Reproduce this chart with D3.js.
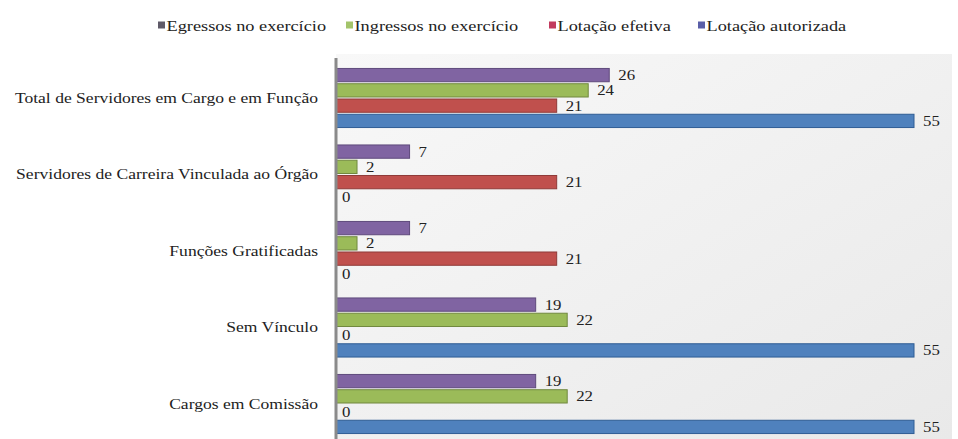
<!DOCTYPE html>
<html><head><meta charset="utf-8">
<script src="https://cdn.jsdelivr.net/npm/d3@7"></script>
<style>body{margin:0;background:#fff}svg{display:block}
svg text{font-family: "Liberation Serif", "DejaVu Serif", serif;}</style>
</head><body>
<script>
const categories = ["Total de Servidores em Cargo e em Função","Servidores de Carreira Vinculada ao Órgão","Funções Gratificadas","Sem Vínculo","Cargos em Comissão"];
const seriesNames = ["Egressos no exercício","Ingressos no exercício","Lotação efetiva","Lotação autorizada"];
const egressos   = [26, 7, 7, 19, 19];
const ingressos  = [24, 2, 2, 22, 22];
const efetiva    = [21, 21, 21, 0, 0];
const autorizada = [55, 0, 0, 55, 55];
const seriesValues = [egressos, ingressos, efetiva, autorizada];

const W = 958, H = 439;
const barFill = ["#8064a2", "#9bbb59", "#c0504d", "#4f81bd"];
const barStroke = ["#5f4a7c", "#71893f", "#8f3b39", "#2f5d94"];
const swatch = ["#5f5a68", "#a3c46a", "#c23b5e", "#5a5fa8"];

function stretch(sel, k) {
  sel.each(function() {
    const w = this.getComputedTextLength();
    d3.select(this).attr("textLength", w * k).attr("lengthAdjust", "spacingAndGlyphs");
  });
}

const svg = d3.select("body").append("svg").attr("width", W).attr("height", H);

const defs = svg.append("defs");
const g1 = defs.append("linearGradient").attr("id","bg").attr("x1","0").attr("y1","0").attr("x2","1").attr("y2","1");
g1.append("stop").attr("offset","0").attr("stop-color","#f8f8f8");
g1.append("stop").attr("offset","1").attr("stop-color","#e9e9e9");

const x0 = 336;
const x = d3.scaleLinear().domain([0, 55]).range([x0, 914]);
const y = d3.scaleBand().domain(categories).range([59.75, 442.25]).padding(0);
const yi = d3.scaleBand().domain(d3.range(4)).range([0, 60]).paddingInner(0.13).paddingOuter(0.03);

svg.append("rect").attr("x", x0).attr("y", 54).attr("width", W - x0 - 6).attr("height", H - 54).attr("fill", "url(#bg)");

const groups = svg.selectAll("g.cat").data(categories).join("g").attr("class","cat")
  .attr("transform", d => `translate(0,${y(d) + y.bandwidth()/2 - 30})`);

groups.each(function(cat, ci) {
  const g = d3.select(this);
  seriesValues.forEach((vals, si) => {
    const v = vals[ci];
    if (v > 0) {
      g.append("rect").attr("x", x(0)).attr("y", yi(si))
        .attr("width", x(v) - x(0)).attr("height", yi.bandwidth())
        .attr("fill", barFill[si]).attr("stroke", barStroke[si]).attr("stroke-width", 1);
    }
    g.append("text").attr("class", "val").attr("x", x(v) + (v > 0 ? 9 : 6)).attr("y", yi(si) + yi.bandwidth()/2 + 5)
      .attr("font-size", 15).attr("fill", "#222").text(v);
  });
});
stretch(svg.selectAll("text.val"), 1.12);

const yAxis = d3.axisLeft(y).tickSize(0).tickPadding(18);
const ax = svg.append("g").attr("transform", `translate(${x0},0)`).call(yAxis);
ax.attr("font-family", null);
ax.select(".domain").attr("stroke", "#8a8a8a").attr("stroke-width", 3)
  .attr("d", `M0,58V${H}`);
ax.selectAll(".tick text").attr("font-size", 15).attr("fill", "#222");
stretch(ax.selectAll(".tick text"), 1.17);

const legX = [158, 346, 549, 698];
const leg = svg.append("g").attr("font-size", 15);
seriesNames.forEach((n, i) => {
  leg.append("rect").attr("x", legX[i]).attr("y", 21.5).attr("width", 7).attr("height", 7).attr("fill", swatch[i]);
  leg.append("text").attr("x", legX[i] + 8.5).attr("y", 31).attr("fill", "#222").text(n);
});
stretch(leg.selectAll("text"), 1.22);
</script>
</body></html>
